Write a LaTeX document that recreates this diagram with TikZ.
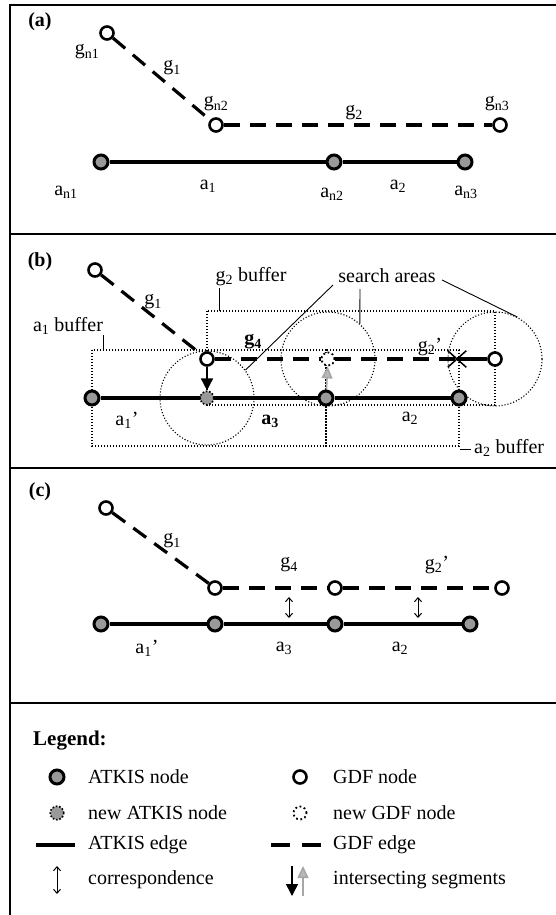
\documentclass[tikz,border=0pt]{standalone}
\usepackage{fontspec}
\setmainfont{Liberation Serif}
\usetikzlibrary{arrows.meta,shapes.misc}
\definecolor{atkgray}{gray}{0.6}
\begin{document}
\begin{tikzpicture}[x=1pt,y=-1pt,
  borderline/.style={line width=1.2pt},
  gdf/.style={circle, draw, line width=2.6pt, fill=white, minimum size=13pt, inner sep=0pt},
  atk/.style={circle, draw, line width=3pt, fill=atkgray, minimum size=14pt, inner sep=0pt},
  newatk/.style={circle, fill=atkgray, draw=black, line width=1.6pt, dash pattern=on 1.6pt off 1.8pt, minimum size=13.5pt, inner sep=0pt},
  newgdf/.style={circle, draw, fill=white, line width=1.8pt, dash pattern=on 1.8pt off 2.6pt, minimum size=13pt, inner sep=0pt},
  gedge/.style={line width=3.2pt, dash pattern=on 16pt off 10pt},
  aedge/.style={line width=4.2pt},
  dots/.style={line width=1.1pt, dash pattern=on 1.1pt off 1.9pt},
  zone/.style={circle, draw, dots, minimum size=94pt, inner sep=0pt},
  leader/.style={line width=0.9pt},
  lbl/.style={font=\fontsize{20}{22}\selectfont, inner sep=0pt},
  panel/.style={font=\bfseries\fontsize{20}{22}\selectfont, inner sep=0pt},
  downarrow/.style={line width=1.6pt, -{Triangle[length=12pt,width=12pt]}},
  uparrow/.style={draw=gray!70, line width=1.6pt, -{Triangle[length=12pt,width=11pt,fill=gray!55]}},
  corr/.style={line width=1pt, {Straight Barb[length=4pt,width=7pt]}-{Straight Barb[length=4pt,width=7pt]}},
]
\useasboundingbox (0,0) rectangle (556,915);

% outer frame and panel dividers
\draw[borderline] (10,915) -- (10,5) -- (556,5);
\draw[borderline] (10,234) -- (556,234);
\draw[borderline] (10,468) -- (556,468);
\draw[borderline] (10,703) -- (556,703);

% ---------------- panel (a) ----------------
\node[panel] (pa) at (40,22) {(a)};
\node[gdf] (gn1) at (107,33) {};
\node[gdf] (gn2) at (216,125) {};
\node[gdf] (gn3) at (500,125) {};
\node[atk] (an1) at (101,162) {};
\node[atk] (an2) at (334,162) {};
\node[atk] (an3) at (465,162) {};
\draw[gedge] (gn1) -- (gn2);
\draw[gedge] (gn2) -- (gn3);
\draw[aedge] (an1) -- (an2);
\draw[aedge] (an2) -- (an3);
\node[lbl] (lgn1) at (87,52) {g\textsubscript{n1}};
\node[lbl] (lg1) at (172,68) {g\textsubscript{1}};
\node[lbl] (lgn2) at (216,104) {g\textsubscript{n2}};
\node[lbl] (lg2) at (354,113) {g\textsubscript{2}};
\node[lbl] (lgn3) at (497,104) {g\textsubscript{n3}};
\node[lbl] (lan1) at (66,192) {a\textsubscript{n1}};
\node[lbl] (la1) at (208,186) {a\textsubscript{1}};
\node[lbl] (lan2) at (332,194) {a\textsubscript{n2}};
\node[lbl] (la2) at (398,186) {a\textsubscript{2}};
\node[lbl] (lan3) at (466,192) {a\textsubscript{n3}};

% ---------------- panel (b) ----------------
\node[panel] (pb) at (40,262) {(b)};
% buffers
\draw[dots] (92,350) rectangle (326,446);
\draw[dots] (326,350) rectangle (459,446);
\draw[dots] (207,311) rectangle (495,405);
% search areas
\node[zone] (sc1) at (207,398) {};
\node[zone] (sc2) at (328,359) {};
\node[zone] (sc3) at (495,359) {};
% network
\node[gdf] (bg1) at (95,270) {};
\node[gdf] (bg2) at (207,359) {};
\node[newgdf] (bgnew) at (328,359) {};
\node[cross out, draw, line width=1.5pt, minimum width=17pt, minimum height=15pt, inner sep=0pt] (bx) at (457,359) {};
\node[gdf] (bg3) at (495,359) {};
\node[atk] (ba1) at (92,398) {};
\node[atk] (ba2) at (326,398) {};
\node[atk] (ba3) at (459,398) {};
\draw[gedge] (bg1) -- (bg2);
\draw[gedge] (bg2) -- (bgnew);
\draw[gedge] (bgnew) -- (bx.center);
\draw[line width=3.2pt] (bx.center) -- (bg3);
\draw[aedge] (ba1) -- (ba2);
\draw[aedge] (ba2) -- (ba3);
\node[newatk] (banew) at (207,398) {};
\draw[downarrow] (bg2) -- (banew);
\draw[uparrow] (ba2) -- (bgnew);
% labels and leaders
\node[lbl] (blg1) at (153,302) {g\textsubscript{1}};
\node[lbl] (ba1buf) at (68,326) {a\textsubscript{1} buffer};
\draw[leader] (103,335) -- (103,350);
\node[lbl] (bg2buf) at (251,277) {g\textsubscript{2} buffer};
\draw[leader] (219,288) -- (219,311);
\node[lbl] (bsa) at (387,276) {search areas};
\coordinate (sa1) at (333,285);
\coordinate (sa2) at (360,289);
\coordinate (sa3) at (442,280);
\draw[leader] (sa1) -- (sc1.36);
\draw[leader] (sa2) -- (sc2.48);
\draw[leader] (sa3) -- (sc3.62);
\node[lbl] (blg4) at (253,342) {\textbf{g\textsubscript{4}}};
\node[lbl] (blg2p) at (430,347) {g\textsubscript{2}’};
\node[lbl] (bla1p) at (127,420) {a\textsubscript{1}’};
\node[lbl] (bla3) at (270,421) {\textbf{a\textsubscript{3}}};
\node[lbl] (bla2) at (410,418) {a\textsubscript{2}};
\draw[leader] (460,449) -- (471,449);
\node[lbl, anchor=west] (ba2buf) at (474,448) {a\textsubscript{2} buffer};

% ---------------- panel (c) ----------------
\node[panel] (pc) at (40,492) {(c)};
\node[gdf] (cg1) at (106,508) {};
\node[gdf] (cg2) at (215,588) {};
\node[gdf] (cg3) at (335,588) {};
\node[gdf] (cg4) at (502,588) {};
\node[atk] (ca1) at (101,624) {};
\node[atk] (ca2) at (215,624) {};
\node[atk] (ca3) at (335,624) {};
\node[atk] (ca4) at (470,624) {};
\draw[gedge] (cg1) -- (cg2);
\draw[gedge] (cg2) -- (cg3);
\draw[gedge] (cg3) -- (cg4);
\draw[aedge] (ca1) -- (ca2);
\draw[aedge] (ca2) -- (ca3);
\draw[aedge] (ca3) -- (ca4);
\coordinate (k1t) at (289,597);
\coordinate (k1b) at (289,618);
\coordinate (k2t) at (418,597);
\coordinate (k2b) at (418,618);
\draw[corr] (k1t) -- (k1b);
\draw[corr] (k2t) -- (k2b);
\node[lbl] (clg1) at (172,541) {g\textsubscript{1}};
\node[lbl] (clg4) at (289,565) {g\textsubscript{4}};
\node[lbl] (clg2p) at (437,565) {g\textsubscript{2}’};
\node[lbl] (cla1p) at (147,648) {a\textsubscript{1}’};
\node[lbl] (cla3) at (284,648) {a\textsubscript{3}};
\node[lbl] (cla2) at (400,648) {a\textsubscript{2}};

% ---------------- legend ----------------
\node[panel, anchor=west, font=\bfseries\fontsize{21}{23}\selectfont] (leg) at (33,741) {Legend:};
\node[atk] (s1) at (57,777) {};
\node[newatk] (s2) at (57,813) {};
\coordinate (s3a) at (36,845);
\coordinate (s3b) at (75,845);
\draw[aedge] (s3a) -- (s3b);
\coordinate (s4a) at (57,866);
\coordinate (s4b) at (57,894);
\draw[corr] (s4a) -- (s4b);
\node[gdf] (r1) at (300,777) {};
\node[newgdf] (r2) at (300,813) {};
\coordinate (r3a) at (271,845);
\coordinate (r3b) at (321,845);
\draw[gedge, dash pattern=on 19pt off 12pt] (r3a) -- (r3b);
\coordinate (r4a) at (292,866);
\coordinate (r4b) at (292,896);
\coordinate (r4c) at (303,896);
\coordinate (r4d) at (303,866);
\draw[downarrow] (r4a) -- (r4b);
\draw[uparrow] (r4c) -- (r4d);
\node[lbl, anchor=west] (t1) at (88,777) {ATKIS node};
\node[lbl, anchor=west] (t2) at (88,813) {new ATKIS node};
\node[lbl, anchor=west] (t3) at (88,845) {ATKIS edge};
\node[lbl, anchor=west] (t4) at (88,880) {correspondence};
\node[lbl, anchor=west] (u1) at (333,777) {GDF node};
\node[lbl, anchor=west] (u2) at (333,813) {new GDF node};
\node[lbl, anchor=west] (u3) at (333,845) {GDF edge};
\node[lbl, anchor=west] (u4) at (333,880) {intersecting segments};
\end{tikzpicture}
\end{document}
